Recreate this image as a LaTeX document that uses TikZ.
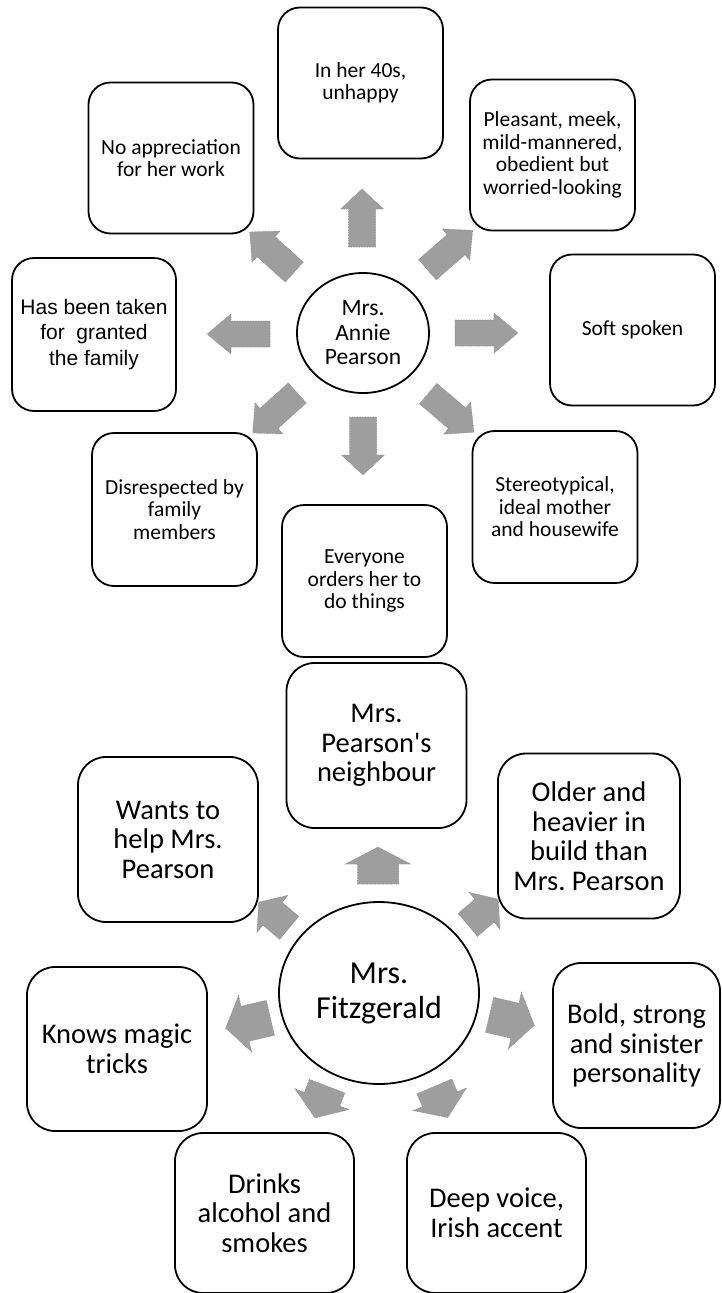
\documentclass[tikz,border=0pt]{standalone}
\usepackage{fontspec}
\setmainfont{Carlito}
\newfontfamily\arialfont{Liberation Sans}
\usetikzlibrary{shapes.geometric}
\frenchspacing

% block arrow: centre x, centre y, angle, length, shaft width, head width, head length
\newcommand{\blockarrow}[7]{%
  \path[blockfill, shift={(#1,#2)}, rotate=#3]
    ({-#4/2},{-#5/2}) -- ({#4/2-#7},{-#5/2}) -- ({#4/2-#7},{-#6/2}) --
    ({#4/2},0) -- ({#4/2-#7},{#6/2}) -- ({#4/2-#7},{#5/2}) --
    ({-#4/2},{#5/2}) -- cycle;}

\begin{document}
\begin{tikzpicture}[x=1pt,y=-1pt,
  card/.style={draw=black, line width=1.8pt, align=center, inner sep=0pt},
  smallcard/.style={card, rounded corners=22pt, minimum width=165pt, minimum height=151pt,
    font=\fontsize{21.5}{22.5}\selectfont},
  bigcard/.style={card, rounded corners=28pt, minimum width=180pt, minimum height=165pt,
    font=\fontsize{28.5}{29.5}\selectfont},
  hub/.style={draw=black, line width=1.8pt, ellipse, align=center, inner sep=0pt},
  blockfill/.style={fill={rgb,255:red,158;green,158;blue,158},
    draw={rgb,255:red,135;green,135;blue,135}, line width=0.6pt, densely dotted}
]
\useasboundingbox (0,0) rectangle (722,1293);

% ---------- Mrs. Annie Pearson ----------
\node[hub, minimum width=132pt, minimum height=120pt,
      font=\fontsize{23.5}{24.5}\selectfont] (annie) at (363,333) {Mrs.\\Annie\\Pearson};

\node[smallcard] (age)     at (360.5,83)  {In her 40s,\\unhappy};
\node[smallcard] (apprec)  at (171,158)   {No appreciation\\for her work};
\node[smallcard] (meek)    at (552.5,155) {Pleasant, meek,\\mild-mannered,\\obedient but\\worried-looking};
\node[smallcard, minimum width=164pt, minimum height=153pt,
      font=\arialfont\fontsize{21}{25.5}\selectfont] (granted) at (94,334.5)
      {Has been taken\\for\ \ granted\\the family};
\node[smallcard] (soft)    at (632.5,330) {Soft spoken};
\node[smallcard, minimum height=153pt] (disresp) at (174.5,509.5) {Disrespected by\\family\\members};
\node[smallcard, minimum height=152pt] (orders)  at (364.5,581)   {Everyone\\orders her to\\do things};
\node[smallcard, minimum height=152pt] (ideal)   at (555,507)     {Stereotypical,\\ideal mother\\and housewife};

\blockarrow{486.5}{333}{0}{63}{26}{40}{24}
\blockarrow{238.5}{334}{180}{63}{26}{40}{24}
\blockarrow{362}{218}{90}{58}{27}{43}{20}
\blockarrow{363}{446}{270}{58}{27}{43}{20}
\blockarrow{272}{252}{138}{60}{27}{42}{22}
\blockarrow{450}{250}{41}{60}{27}{42}{22}
\blockarrow{275}{413}{222}{60}{27}{42}{22}
\blockarrow{451}{413}{320}{60}{27}{42}{22}

% ---------- Mrs. Fitzgerald ----------
\node[hub, minimum width=200pt, minimum height=182pt,
      font=\fontsize{32}{35}\selectfont] (fitz) at (379,993) {Mrs.\\Fitzgerald};

\node[bigcard] (neighbour) at (376.5,745.5) {Mrs.\\Pearson\textquotesingle s\\neighbour};
\node[bigcard] (help)      at (168,839.5)   {Wants to\\help Mrs.\\Pearson};
\node[bigcard, minimum width=182pt] (older) at (589,836) {Older and\\heavier in\\build than\\Mrs. Pearson};
\node[bigcard, minimum height=164pt] (magic) at (117,1049) {Knows magic\\tricks};
\node[bigcard, minimum width=167pt] (bold) at (636.5,1045.5) {Bold, strong\\and sinister\\personality};
\node[bigcard, minimum width=179pt, minimum height=160pt] (drinks) at (264.5,1213) {Drinks\\alcohol and\\smokes};
\node[bigcard, minimum width=179pt, minimum height=160pt] (voice)  at (496.5,1213) {Deep voice,\\Irish accent};

\blockarrow{378}{865.5}{90}{37}{41}{65}{17}
\blockarrow{274}{915}{140}{40}{30}{48}{18}
\blockarrow{483}{912}{40}{40}{30}{48}{18}
\blockarrow{512}{1020}{-13}{46}{36}{58}{20}
\blockarrow{248}{1023}{193}{46}{36}{58}{20}
\blockarrow{321}{1102}{249}{34}{38}{58}{20}
\blockarrow{441}{1102}{293}{34}{38}{58}{20}
\end{tikzpicture}
\end{document}
